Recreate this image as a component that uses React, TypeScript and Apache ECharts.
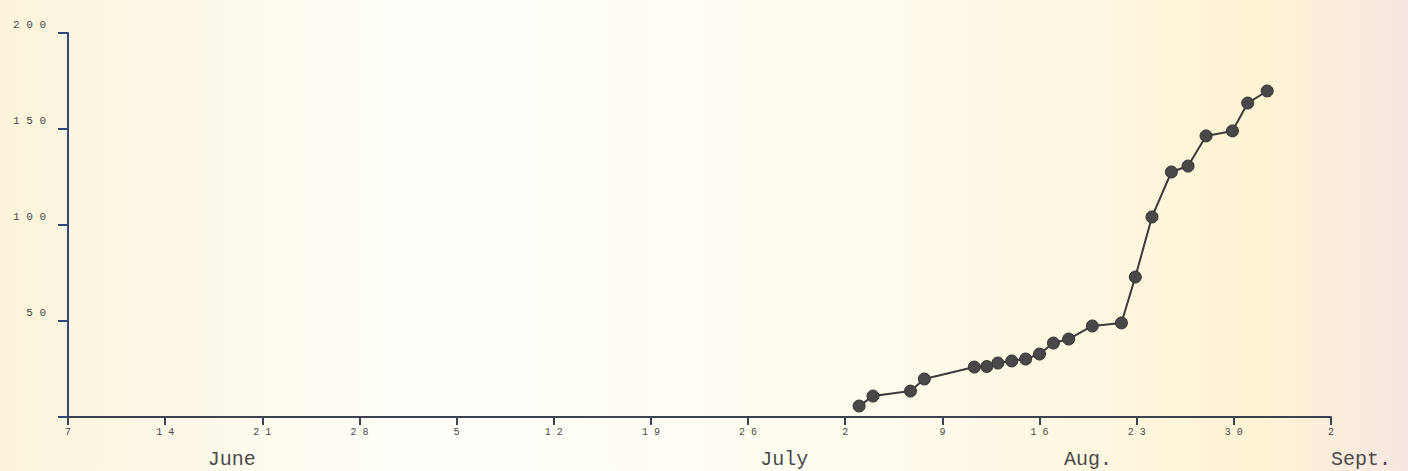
import React, { useEffect, useRef } from "react";
import * as echarts from "echarts";

// days counted from June 7 (tick every 7 days)
const tickLabels = ["7", "14", "21", "28", "5", "12", "19", "26", "2", "9", "16", "23", "30", "2"];
const yTickLabels = ["0", "50", "100", "150", "200"];
const dayValues = [57.0, 58.0, 60.7, 61.7, 65.3, 66.2, 67.0, 68.0, 69.0, 70.0, 71.0, 72.1, 73.8, 75.9, 76.9, 78.1, 79.5, 80.7, 82.0, 83.9, 85.0, 86.4];
const countValues = [5.7, 10.9, 13.5, 19.8, 26.0, 26.3, 28.1, 29.2, 30.2, 32.8, 38.5, 40.6, 47.4, 49.0, 72.9, 104.2, 127.6, 130.7, 146.4, 149.0, 163.5, 169.8];
const monthNames = ["June", "July", "Aug.", "Sept."];
const monthDays = [11.8, 51.6, 73.5, 91];
const monthAlign = ["center", "center", "center", "left"];

const spaced = (s: string) => s.split("").join(" ");

export default function App() {
  const ref = useRef<HTMLDivElement>(null);
  useEffect(() => {
    document.body.style.margin = "0";
    const chart = echarts.init(ref.current!, null, { renderer: "svg" });
    const mono = "'Liberation Mono', 'DejaVu Sans Mono', monospace";
    chart.setOption({
      animation: false,
      backgroundColor: {
        type: "linear",
        x: 0, y: 0, x2: 1, y2: 0,
        colorStops: [
          { offset: 0, color: "#fbf4da" },
          { offset: 0.3, color: "#fffefa" },
          { offset: 0.6, color: "#fffcf0" },
          { offset: 0.9, color: "#fdf3d4" },
          { offset: 1, color: "#f8e6e2" },
        ],
      },
      grid: { left: 68, right: 77, top: 33, bottom: 54 },
      xAxis: {
        type: "value",
        min: 0,
        max: 91,
        interval: 7,
        splitLine: { show: false },
        axisLine: { show: true, lineStyle: { color: "#3b4250", width: 2 } },
        axisTick: { show: true, length: 8, lineStyle: { color: "#3b4250", width: 2 } },
        axisLabel: {
          margin: 10,
          fontFamily: mono,
          fontSize: 10,
          color: "#4a4a4a",
          formatter: (v: number) => spaced(tickLabels[Math.round(v / 7)] ?? ""),
        },
      },
      yAxis: {
        type: "value",
        min: 0,
        max: 200,
        interval: 50,
        splitLine: { show: false },
        axisLine: { show: true, lineStyle: { color: "#2f4a78", width: 2 } },
        axisTick: { show: true, length: 10, lineStyle: { color: "#2f4a78", width: 2 } },
        axisLabel: {
          margin: 22,
          fontFamily: mono,
          fontSize: 11,
          color: "#4a4a4a",
          verticalAlign: "bottom",
          padding: [0, 0, 3, 0],
          formatter: (v: number) => {
            const s = yTickLabels[Math.round(v / 50)];
            return v === 0 ? "" : spaced(s);
          },
        },
      },
      series: [
        {
          type: "line",
          data: dayValues.map((d, i) => [d, countValues[i]]),
          symbol: "circle",
          symbolSize: 12,
          lineStyle: { color: "#3a3a3a", width: 2 },
          itemStyle: { color: "#484848", borderColor: "#333", borderWidth: 1 },
        },
      ],
    });
    const baseY = chart.convertToPixel({ yAxisIndex: 0 }, 0) as number;
    chart.setOption({
      graphic: monthNames.map((name, i) => ({
        type: "text",
        x: chart.convertToPixel({ xAxisIndex: 0 }, monthDays[i]) as number,
        y: baseY + 42,
        style: {
          text: name,
          fontFamily: mono,
          fontSize: 20,
          fill: "#4a4a4a",
          align: monthAlign[i],
          verticalAlign: "middle",
        },
      })),
    });
    return () => chart.dispose();
  }, []);
  return <div ref={ref} style={{ width: 1408, height: 471 }} />;
}
